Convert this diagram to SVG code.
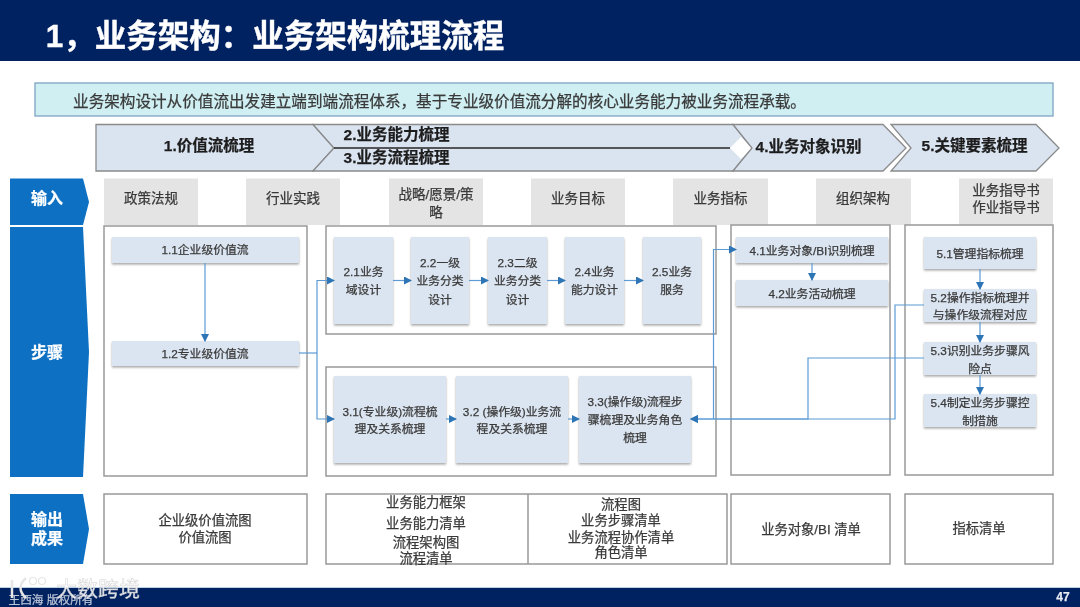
<svg xmlns="http://www.w3.org/2000/svg" width="1080" height="607" viewBox="0 0 1080 607">
<defs>
<filter id="sh" x="-10%" y="-10%" width="120%" height="130%"><feDropShadow dx="0" dy="1.5" stdDeviation="1" flood-color="#7f7f7f" flood-opacity="0.7"/></filter>
<filter id="soft" x="-2%" y="-2%" width="104%" height="104%"><feGaussianBlur stdDeviation="0.45"/></filter>
<marker id="ah" markerWidth="9" markerHeight="9" refX="7" refY="4" orient="auto" markerUnits="userSpaceOnUse"><path d="M0 0L8 4L0 8z" fill="#2e75b6"/></marker>
</defs>
<style>
text{font-family:"Liberation Sans","Noto Sans CJK SC",sans-serif;fill:#3a3a3a;stroke:#3a3a3a;stroke-width:.25;text-anchor:middle;dominant-baseline:central}
.band{fill:#dae4f1;stroke:#8a8a8a;stroke-width:1.3}
.bt{font-size:15.500px;font-weight:700;fill:#1f1f1f;stroke:#1f1f1f}
.tag{fill:#0b6fc2}
.tt{font-size:16px;font-weight:700;fill:#fff;stroke:#fff}
.inp{fill:#e4e4e4}
.it{font-size:13.500px}
.box{fill:#fff;stroke:#999;stroke-width:1.500}
.n{fill:#dbe5f1;filter:url(#sh)}
.nt{font-size:11.800px}
.ot{font-size:13.300px}
.c{fill:none;stroke:#5b9bd5;stroke-width:1.200}
.ca{marker-end:url(#ah)}
</style>
<g id="page" filter="url(#soft)">
<rect width="1080" height="607" fill="#fff"/>
<g id="header"><rect width="1080" height="61" fill="#002060"/><text x="275" y="36" font-size="31.500" font-weight="700" style="fill:#fff;stroke:#fff;stroke-width:.4">1，业务架构：业务架构梳理流程</text></g>
<g id="banner"><rect x="35" y="83" width="1018" height="33" fill="#cfeff3" stroke="#7ea3c4" stroke-width="1.300"/><text x="439.500" y="101" font-size="15.600">业务架构设计从价值流出发建立端到端流程体系，基于专业级价值流分解的核心业务能力被业务流程承载。</text></g>

<g id="phase1"><path class="band" d="M96 124.500H313L334 148L313 171H96z"/><text class="bt" x="209" y="145">1.价值流梳理</text></g>
<g id="phase23"><path class="band" d="M313 124.500H733L752 148L733 171H313L334 148z"/><path d="M334 148H730" fill="none" stroke="#262626" stroke-width="1.300"/><path d="M730 148L741 137L752 148L741 159z" fill="#fff"/><text class="bt" x="396.500" y="134.500">2.业务能力梳理</text><text class="bt" x="396.500" y="157">3.业务流程梳理</text></g>
<g id="phase4"><path class="band" d="M733 124.500H883L906 148L883 171H733L752 148z"/><text class="bt" x="808.500" y="146">4.业务对象识别</text></g>
<g id="phase5"><path class="band" d="M891 124.500H1036L1059 148L1036 171H891L911 148z"/><text class="bt" x="974.500" y="145">5.关键要素梳理</text></g>

<g id="tag-input"><path class="tag" d="M10 178.500H83L89 202L83 225H10z"/><text class="tt" x="47" y="198">输入</text></g>
<g id="tag-steps"><path class="tag" d="M10 227H83L89 352L83 477H10z"/><text class="tt" x="47" y="352">步骤</text></g>
<g id="tag-output"><path class="tag" d="M10 494H83L89 529L83 564H10z"/><text class="tt" x="47" y="519">输出</text><text class="tt" x="47" y="538">成果</text></g>

<g id="input-1"><rect class="inp" x="104" y="178.500" width="94" height="46.500"/><text class="it" x="151" y="198">政策法规</text></g>
<g id="input-2"><rect class="inp" x="246" y="178.500" width="94" height="46.500"/><text class="it" x="293" y="198">行业实践</text></g>
<g id="input-3"><rect class="inp" x="389" y="178.500" width="94" height="46.500"/><text class="it" x="436" y="194">战略/愿景/策</text><text class="it" x="436" y="212">略</text></g>
<g id="input-4"><rect class="inp" x="531" y="178.500" width="94" height="46.500"/><text class="it" x="578" y="198">业务目标</text></g>
<g id="input-5"><rect class="inp" x="673" y="178.500" width="95" height="46.500"/><text class="it" x="720.500" y="198">业务指标</text></g>
<g id="input-6"><rect class="inp" x="816" y="178.500" width="95" height="46.500"/><text class="it" x="863" y="198">组织架构</text></g>
<g id="input-7"><rect class="inp" x="959" y="178.500" width="94" height="46.500"/><text class="it" x="1006" y="190">业务指导书</text><text class="it" x="1006" y="207">作业指导书</text></g>

<g id="containers">
<rect class="box" x="104" y="226" width="203" height="250"/>
<rect class="box" x="326" y="226" width="390" height="108"/>
<rect class="box" x="326" y="367" width="390" height="109"/>
<rect class="box" x="731" y="225" width="159" height="250"/>
<rect class="box" x="905" y="225" width="148" height="250"/>
</g>

<g id="n11"><rect class="n" x="112" y="237" width="187" height="26"/><text class="nt" x="205" y="250">1.1企业级价值流</text></g>
<g id="n12"><rect class="n" x="112" y="341" width="187" height="25"/><text class="nt" x="205" y="354">1.2专业级价值流</text></g>
<g id="n21"><rect class="n" x="334" y="237" width="59" height="87"/><text class="nt" x="363.500" y="272">2.1业务</text><text class="nt" x="363.500" y="290">域设计</text></g>
<g id="n22"><rect class="n" x="411" y="237" width="58" height="87"/><text class="nt" x="440" y="263">2.2一级</text><text class="nt" x="440" y="281">业务分类</text><text class="nt" x="440" y="300">设计</text></g>
<g id="n23"><rect class="n" x="488" y="237" width="59" height="87"/><text class="nt" x="517.500" y="263">2.3二级</text><text class="nt" x="517.500" y="281">业务分类</text><text class="nt" x="517.500" y="300">设计</text></g>
<g id="n24"><rect class="n" x="565" y="237" width="59" height="87"/><text class="nt" x="594.500" y="272">2.4业务</text><text class="nt" x="594.500" y="290">能力设计</text></g>
<g id="n25"><rect class="n" x="643" y="237" width="58" height="87"/><text class="nt" x="672" y="272">2.5业务</text><text class="nt" x="672" y="290">服务</text></g>
<g id="n31"><rect class="n" x="334" y="376" width="112" height="87"/><text class="nt" x="390" y="412">3.1(专业级)流程梳</text><text class="nt" x="390" y="429">理及关系梳理</text></g>
<g id="n32"><rect class="n" x="456" y="376" width="112" height="87"/><text class="nt" x="512" y="412">3.2 (操作级)业务流</text><text class="nt" x="512" y="429">程及关系梳理</text></g>
<g id="n33"><rect class="n" x="579" y="376" width="112" height="87"/><text class="nt" x="635" y="402">3.3(操作级)流程步</text><text class="nt" x="635" y="420">骤梳理及业务角色</text><text class="nt" x="635" y="438">梳理</text></g>
<g id="n41"><rect class="n" x="736" y="237" width="152" height="26"/><text class="nt" x="812" y="251">4.1业务对象/BI识别梳理</text></g>
<g id="n42"><rect class="n" x="736" y="280" width="152" height="26"/><text class="nt" x="812" y="294">4.2业务活动梳理</text></g>
<g id="n51"><rect class="n" x="924" y="237" width="112" height="32"/><text class="nt" x="980" y="254">5.1管理指标梳理</text></g>
<g id="n52"><rect class="n" x="924" y="289" width="112" height="33"/><text class="nt" x="980" y="298">5.2操作指标梳理并</text><text class="nt" x="980" y="315">与操作级流程对应</text></g>
<g id="n53"><rect class="n" x="924" y="342" width="112" height="33"/><text class="nt" x="980" y="351">5.3识别业务步骤风</text><text class="nt" x="980" y="369">险点</text></g>
<g id="n54"><rect class="n" x="924" y="394" width="112" height="33"/><text class="nt" x="980" y="403">5.4制定业务步骤控</text><text class="nt" x="980" y="421">制措施</text></g>

<g id="connectors">
<path class="c ca" d="M205 263V341"/>
<path class="c" d="M299 353H317"/>
<path class="c ca" d="M317 353V280.500H334"/>
<path class="c ca" d="M317 353V419H334"/>
<path class="c ca" d="M393 280.500H411"/>
<path class="c ca" d="M469 280.500H488"/>
<path class="c ca" d="M547 280.500H565"/>
<path class="c ca" d="M624 280.500H643"/>
<path class="c ca" d="M446 419H456"/>
<path class="c ca" d="M568 419H579"/>
<path class="c ca" d="M713.500 419V249.500H736"/>
<path class="c ca" d="M812 263V280"/>
<path class="c ca" d="M980 269V289"/>
<path class="c ca" d="M980 322V342"/>
<path class="c ca" d="M980 375V394"/>
<path class="c ca" d="M924 305H895V419H691"/>
<path class="c ca" d="M924 358H808V419H691"/>
</g>

<g id="out-1"><rect class="box" x="104" y="494" width="203" height="70"/><text class="ot" x="205" y="520">企业级价值流图</text><text class="ot" x="205" y="537">价值流图</text></g>
<g id="out-23"><rect class="box" x="326" y="494" width="401" height="70"/><path d="M528 494V564" stroke="#999" stroke-width="1.500"/>
<text class="ot" x="426" y="502">业务能力框架</text><text class="ot" x="426" y="523">业务能力清单</text><text class="ot" x="426" y="542">流程架构图</text><text class="ot" x="426" y="558">流程清单</text>
<text class="ot" x="621" y="504">流程图</text><text class="ot" x="621" y="520">业务步骤清单</text><text class="ot" x="621" y="537">业务流程协作清单</text><text class="ot" x="621" y="552">角色清单</text></g>
<g id="out-4"><rect class="box" x="731" y="494" width="159" height="70"/><text class="ot" x="811" y="529">业务对象/BI 清单</text></g>
<g id="out-5"><rect class="box" x="905" y="494" width="148" height="70"/><text class="ot" x="979" y="528">指标清单</text></g>

<g id="footer"><rect y="588" width="1080" height="19" fill="#002060"/><path d="M0 587.500H1080" stroke="#bcd0e6" stroke-width="1"/>
<text x="51" y="599" font-size="11.700" style="fill:#b9c4d6;stroke:#b9c4d6">王西海 版权所有</text>
<text x="1063" y="597" font-size="12" font-weight="700" style="fill:#e8edf4;stroke:#e8edf4">47</text>
<text x="98" y="588" font-size="21" style="fill:#fff;stroke:#cfcfcf;stroke-width:.5;opacity:.9">大数跨境</text>
<path d="M12 580V598M26 578Q15 588 26 598" fill="none" stroke="#e6e6e6" stroke-width="2.500"/><circle cx="33" cy="581" r="3.500" fill="none" stroke="#e6e6e6" stroke-width="1.200"/><circle cx="42" cy="581" r="3.500" fill="none" stroke="#e6e6e6" stroke-width="1.200"/>
</g>
</g>
</svg>
